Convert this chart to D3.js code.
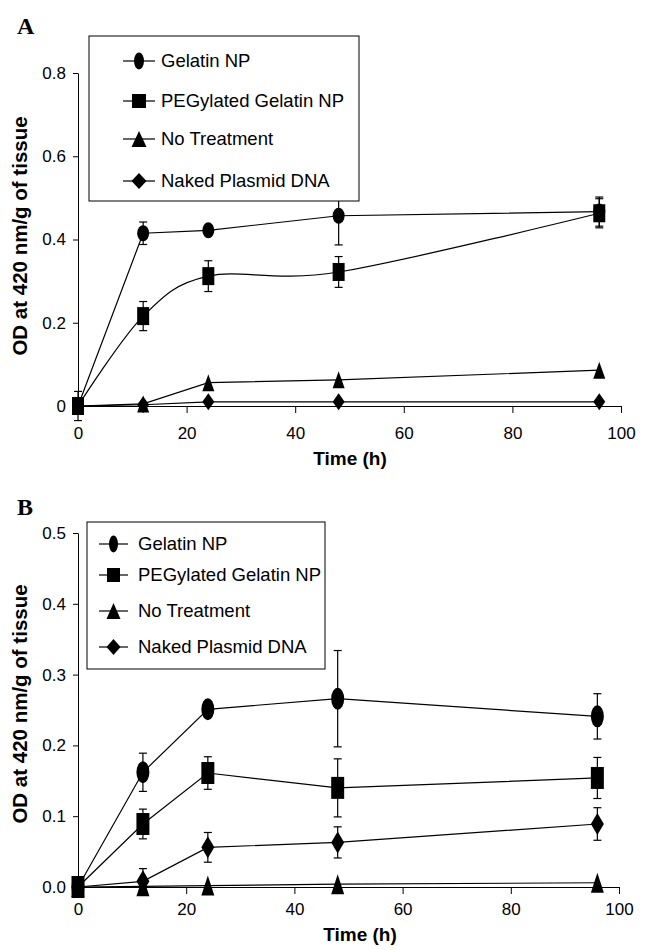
<!DOCTYPE html>
<html>
<head>
<meta charset="utf-8">
<script src="https://cdn.jsdelivr.net/npm/d3@7"></script>
<style>
  body { margin: 0; background: #fff; }
  svg { display: block; }
  text { font-family: "Liberation Sans", Arial, sans-serif; fill: #000; }
</style>
</head>
<body>
<div id="chart"></div>
<script>
// time points (h)
var hours = [0, 12, 24, 48, 96];
var seriesNames = ["Gelatin NP", "PEGylated Gelatin NP", "No Treatment", "Naked Plasmid DNA"];
var markerTypes = ["circle", "square", "triangle", "diamond"];

// panel A values (OD at 420 nm / g tissue) and error bars
var gelatinA     = [0, 0.415, 0.422, 0.457, 0.467];
var gelatinAErr  = [0.035, 0.027, 0.010, 0.070, 0.035];
var pegA         = [0, 0.216, 0.312, 0.322, 0.463];
var pegAErr      = [0, 0.035, 0.037, 0.037, 0.035];
var noTreatA     = [0, 0.005, 0.056, 0.063, 0.086];
var noTreatAErr  = [0, 0, 0, 0, 0];
var nakedA       = [0, 0.003, 0.010, 0.010, 0.010];
var nakedAErr    = [0, 0, 0, 0, 0];

// panel B values
var gelatinB     = [0, 0.162, 0.251, 0.266, 0.241];
var gelatinBErr  = [0, 0.027, 0.010, 0.068, 0.032];
var pegB         = [0, 0.089, 0.161, 0.140, 0.154];
var pegBErr      = [0, 0.021, 0.023, 0.041, 0.029];
var noTreatB     = [0, 0.001, 0.002, 0.004, 0.006];
var noTreatBErr  = [0, 0, 0, 0, 0];
var nakedB       = [0, 0.008, 0.056, 0.063, 0.089];
var nakedBErr    = [0, 0.018, 0.021, 0.022, 0.023];

var xTicks = [0, 20, 40, 60, 80, 100];
var yTicksA = [0, 0.2, 0.4, 0.6, 0.8];
var yTicksB = [0, 0.1, 0.2, 0.3, 0.4, 0.5];

var W = 649, H = 950;
var svg = d3.select("#chart").append("svg")
    .attr("width", W)
    .attr("height", H);

function markerPath(type, w, h) {
  var a = w / 2, b = h / 2;
  if (type == "circle")
    return "M" + (-a) + ",0A" + a + "," + b + " 0 1,0 " + a + ",0A" + a + "," + b + " 0 1,0 " + (-a) + ",0Z";
  if (type == "square")
    return "M" + (-a) + "," + (-b) + "H" + a + "V" + b + "H" + (-a) + "Z";
  if (type == "triangle")
    return "M0," + (-b) + "L" + a + "," + b + "L" + (-a) + "," + b + "Z";
  return "M0," + (-b) + "L" + a + ",0L0," + b + "L" + (-a) + ",0Z";
}

function drawPanel(opt) {
  var g = svg.append("g");
  var x = d3.scaleLinear().domain([0, 100]).range([opt.x0, opt.x1]);
  var y = d3.scaleLinear().domain([0, opt.yMax]).range([opt.y0, opt.y1]);

  var xAxis = d3.axisBottom(x).tickValues(xTicks).tickSize(7)
      .tickPadding(opt.xPad).tickSizeOuter(0);
  var yAxis = d3.axisLeft(y).tickValues(opt.yTicks).tickSize(5)
      .tickPadding(7).tickSizeOuter(0).tickFormat(opt.yFmt);

  g.append("g")
    .attr("class", "x axis")
    .attr("transform", "translate(0," + opt.y0 + ")")
    .call(xAxis);

  g.append("g")
    .attr("class", "y axis")
    .attr("transform", "translate(" + opt.x0 + ",0)")
    .call(yAxis);

  g.selectAll(".axis text")
    .style("font-family", "'Liberation Sans', Arial, sans-serif")
    .style("font-size", "17px")
    .attr("fill", "#000");
  g.selectAll(".axis path, .axis line").attr("stroke", "#000").attr("stroke-width", 1);

  // series lines
  opt.series.forEach(function(s, i) {
    var pts = hours.map(function(h, k) { return { q: h, p: s.vals[k], e: s.err[k] }; });
    var line = d3.line()
        .x(function(d) { return x(d.q); })
        .y(function(d) { return y(d.p); })
        .curve(s.smooth ? d3.curveCardinal.tension(0) : d3.curveLinear);
    g.append("path")
      .datum(pts)
      .attr("fill", "none")
      .attr("stroke", "#000")
      .attr("stroke-width", 1.2)
      .attr("d", line);
  });

  // error bars + markers
  opt.series.forEach(function(s, i) {
    var pts = hours.map(function(h, k) { return { q: h, p: s.vals[k], e: s.err[k] }; })
        .filter(function(d) { return d.e > 0; });
    var eb = g.append("g").attr("stroke", "#000").attr("stroke-width", 1.2);
    eb.selectAll("line.v").data(pts).enter().append("line")
      .attr("x1", function(d) { return x(d.q); })
      .attr("x2", function(d) { return x(d.q); })
      .attr("y1", function(d) { return y(d.p - d.e); })
      .attr("y2", function(d) { return y(d.p + d.e); });
    [1, -1].forEach(function(sg) {
      eb.selectAll("line.c" + sg).data(pts).enter().append("line")
        .attr("x1", function(d) { return x(d.q) - 4; })
        .attr("x2", function(d) { return x(d.q) + 4; })
        .attr("y1", function(d) { return y(d.p + sg * d.e); })
        .attr("y2", function(d) { return y(d.p + sg * d.e); });
    });
  });
  opt.series.forEach(function(s, i) {
    g.selectAll(null).data(s.vals).enter().append("path")
      .attr("transform", function(d, k) { return "translate(" + x(hours[k]) + "," + y(d) + ")"; })
      .attr("d", markerPath(markerTypes[i], opt.mw, opt.mh[i]))
      .attr("fill", "#000");
  });

  // legend
  var lg = opt.legend;
  g.append("rect")
    .attr("x", lg.x).attr("y", lg.y).attr("width", lg.w).attr("height", lg.h)
    .attr("fill", "#fff").attr("stroke", "#000").attr("stroke-width", 1);
  seriesNames.forEach(function(name, i) {
    var yy = lg.rows[i];
    g.append("line")
      .attr("x1", lg.l0).attr("x2", lg.l1).attr("y1", yy).attr("y2", yy)
      .attr("stroke", "#000").attr("stroke-width", 1.2);
    g.append("path")
      .attr("transform", "translate(" + ((lg.l0 + lg.l1) / 2) + "," + yy + ")")
      .attr("d", markerPath(markerTypes[i], lg.mw[i], lg.mh[i]))
      .attr("fill", "#000");
    g.append("text")
      .attr("x", lg.tx).attr("y", yy)
      .attr("dy", "0.35em")
      .style("font-size", "18.5px")
      .text(name);
  });

  // titles
  g.append("text")
    .attr("transform", "translate(" + 27 + "," + opt.yTitleC + ") rotate(-90)")
    .attr("text-anchor", "middle")
    .style("font-size", "20.5px")
    .style("font-weight", "bold")
    .text("OD at 420 nm/g of tissue");
  g.append("text")
    .attr("x", opt.xTitleX).attr("y", opt.xTitleY)
    .attr("text-anchor", "middle")
    .style("font-size", "19px")
    .style("font-weight", "bold")
    .text("Time (h)");
  g.append("text")
    .attr("x", 17).attr("y", opt.letterY)
    .style("font-family", "'Liberation Serif', 'Times New Roman', serif")
    .style("font-size", "24px")
    .style("font-weight", "bold")
    .text(opt.letter);
}

drawPanel({
  letter: "A", letterY: 34,
  x0: 78, x1: 621, y0: 406, y1: 73, yMax: 0.8,
  yTicks: yTicksA, yFmt: d3.format("~g"), xPad: 14,
  mw: 12, mh: [16, 18, 17, 17],
  yTitleC: 236, xTitleX: 350, xTitleY: 465,
  series: [
    { vals: gelatinA, err: gelatinAErr, smooth: false },
    { vals: pegA, err: pegAErr, smooth: true },
    { vals: noTreatA, err: noTreatAErr, smooth: false },
    { vals: nakedA, err: nakedAErr, smooth: false }
  ],
  legend: { x: 89, y: 36, w: 270, h: 165, rows: [61, 101, 139, 181],
            l0: 123, l1: 155, tx: 161, mw: [10, 14, 15, 15], mh: [17, 14, 16, 16] }
});

drawPanel({
  letter: "B", letterY: 515,
  x0: 78, x1: 619, y0: 887, y1: 533, yMax: 0.5,
  yTicks: yTicksB, yFmt: d3.format(".1f"), xPad: 9,
  mw: 13, mh: [22, 22, 20, 22],
  yTitleC: 704, xTitleX: 360, xTitleY: 941,
  series: [
    { vals: gelatinB, err: gelatinBErr, smooth: false },
    { vals: pegB, err: pegBErr, smooth: false },
    { vals: noTreatB, err: noTreatBErr, smooth: false },
    { vals: nakedB, err: nakedBErr, smooth: false }
  ],
  legend: { x: 87, y: 522, w: 238, h: 147, rows: [544, 575, 611, 647],
            l0: 99, l1: 128, tx: 138, mw: [9, 13, 14, 14], mh: [17, 14, 16, 16] }
});
</script>
</body>
</html>
